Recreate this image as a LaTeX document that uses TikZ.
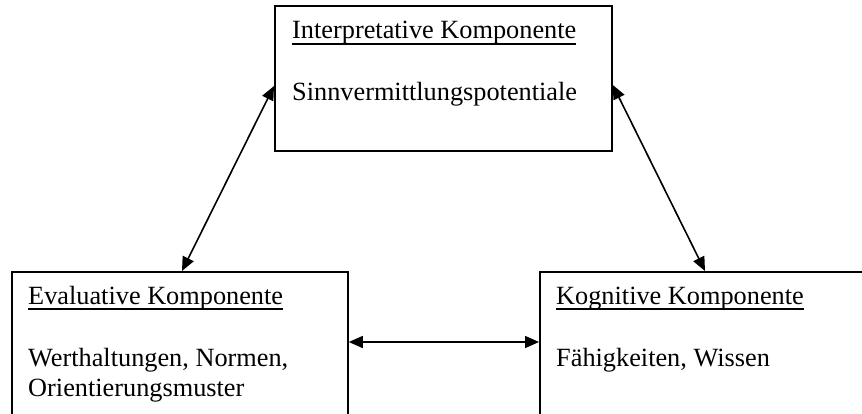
\documentclass[tikz,border=0pt]{standalone}
\usepackage{fontspec}
\setmainfont{Liberation Serif}
\usetikzlibrary{arrows.meta,calc}
\tikzset{
  boxshape/.style={draw=black, line width=1.8pt, rectangle, inner sep=0pt, anchor=north west},
  txt/.style={inner sep=0pt, anchor=base west, font=\fontsize{26.3}{30.5}\selectfont},
  uline/.style={line width=1.4pt},
  link/.style={line width=1.6pt, {Triangle[length=14pt,width=12pt]}-{Triangle[length=14pt,width=12pt]}}
}
\begin{document}
\begin{tikzpicture}[x=1pt,y=1pt]
\clip (0,0) rectangle (862,-414);
\fill[white] (0,0) rectangle (862,-414);
% boxes
\node[boxshape, minimum width=337pt, minimum height=145pt] (interp) at (274,-5) {};
\node[boxshape, minimum width=336pt, minimum height=180pt] (eval) at (11,-271) {};
\node[boxshape, minimum width=360pt, minimum height=180pt] (kogn) at (539,-271) {};
% texts
\node[txt] (interpT) at (292,-39) {Interpretative Komponente};
\node[txt] (interpB) at (292,-101) {Sinnvermittlungspotentiale};
\node[txt] (evalT) at (28,-304) {Evaluative Komponente};
\node[txt] (evalB) at (28,-366) {Werthaltungen, Normen,};
\node[txt] (evalC) at (28,-396) {Orientierungsmuster};
\node[txt] (kognT) at (556,-304) {Kognitive Komponente};
\node[txt] (kognB) at (556,-366) {Fähigkeiten, Wissen};
% underlines
\foreach \t in {interpT,evalT,kognT}{
  \draw[uline] ($(\t.base west)+(0,-5)$) -- ($(\t.base east)+(0,-5)$);
}
% connectors
\coordinate (iL) at ($(interp.north west)+(0,-81)$);
\coordinate (iR) at ($(interp.north east)+(0,-80)$);
\coordinate (eT) at ($(eval.north west)+(171,0)$);
\coordinate (kT) at ($(kogn.north west)+(166,0)$);
\coordinate (eR) at ($(eval.north east)+(0,-71)$);
\coordinate (kL) at ($(kogn.north west)+(0,-71)$);
\draw[link] (iL) -- (eT);
\draw[link] (iR) -- (kT);
\draw[link] (eR) -- (kL);
\end{tikzpicture}
\end{document}
